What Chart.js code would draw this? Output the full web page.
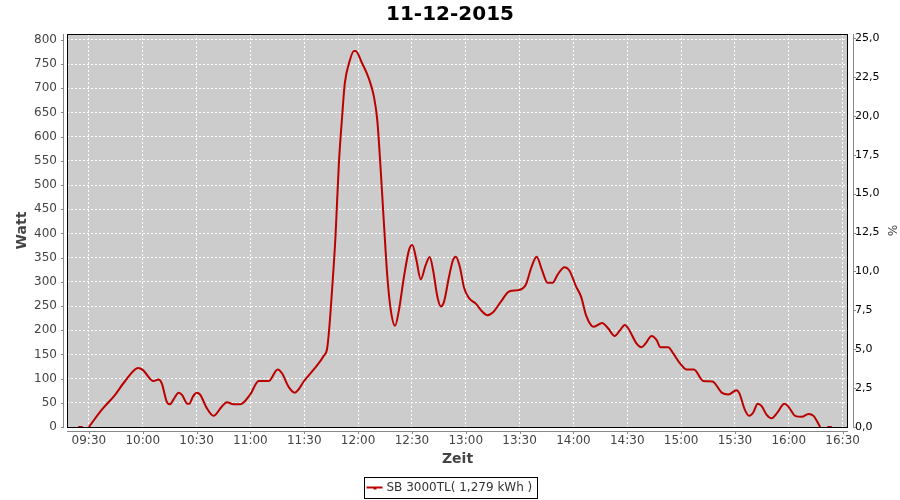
<!DOCTYPE html>
<html><head><meta charset="utf-8">
<script src="https://cdn.jsdelivr.net/npm/chart.js@4/dist/chart.umd.min.js"></script>
<style>html,body{margin:0;padding:0;background:#fff}canvas{display:block}</style>
</head><body>
<canvas id="c" width="900" height="500"></canvas>
<script>
const chartTitle = '11-12-2015';
const seriesLabel = 'SB 3000TL( 1,279 kWh )';
const xTitle = 'Zeit', yTitle = 'Watt', y2Title = '%';
// time in minutes after midnight
const times = [564,566.5,568,570,577,584.5,590,597.5,600,606,608.7,610.6,613.4,615.2,617,620,622,624.5,625.9,628,630,632,635.7,639.4,644,646.9,650.6,654.4,660,664.6,670.2,675.2,677.6,681.3,684.7,686.9,689.7,695.3,700.9,702.8,704,705.5,707.4,709.3,711.1,712.6,714.9,717.7,718.6,722.3,726,728.8,730.7,732.6,734.4,736.3,738.2,740.6,742.8,745.6,748.4,750.2,752.5,754.9,757.7,759.9,761.8,764.2,766.1,767.9,770.7,772.9,774.5,776.7,779.1,781.9,785.6,789.3,792.1,794.9,799.6,804.2,809.8,813.6,816.4,819.5,822.5,825.6,828.4,831.2,835,837.8,841.5,844.3,847.1,849.9,851.3,856,859.3,863,865.8,868.6,870.5,875.1,877.9,880.3,883.5,886.3,888.5,892.8,895.6,899.3,903,907.1,912.4,917.5,922.6,926.3,930.9,932.4,935.6,938,940.2,942.7,944.9,947.7,950.5,953.3,957.6,959.8,963.5,967.3,971,973.8,977.5,979,981.5,984];
const watts = [0,0,null,0,35,66,94,122,118,95,98,90,52,47,56,71,66,49,48,63,71,67,39,23,42,51,47,47,68,95,95,119,111,83,71,78,94,119,147,163,207,283,393,545,641,710,751,777,777,751,720,683,634,531,421,311,242,209,242,311,366,376,345,305,335,351,324,269,249,259,311,345,352,331,287,266,255,238,231,236,259,280,283,295,328,352,324,298,298,315,330,323,290,269,230,210,207,215,204,188,199,211,204,173,165,173,188,180,165,165,152,132,119,119,95,94,71,67,76,70,35,23,30,48,43,25,18,28,48,42,23,21,27,23,0,null,0,0];
const xTickLabels = ['09:30','10:00','10:30','11:00','11:30','12:00','12:30','13:00','13:30','14:00','14:30','15:00','15:30','16:00','16:30'];
const wattTicks = [0,50,100,150,200,250,300,350,400,450,500,550,600,650,700,750,800];
const percentTicks = [0,2.5,5,7.5,10,12.5,15,17.5,20,22.5,25];

const toMin = s => { const [h, m] = s.split(':').map(Number); return h * 60 + m; };
const fmtMin = v => { const h = Math.floor(v / 60), m = Math.round(v % 60); return String(h).padStart(2, '0') + ':' + String(m).padStart(2, '0'); };
const FONT = '"DejaVu Sans", sans-serif';

const frame = {
  id: 'frame',
  beforeDraw(chart) {
    const {ctx, chartArea: a} = chart;
    ctx.save();
    ctx.fillStyle = '#cccccc';
    ctx.fillRect(a.left, a.top, a.right - a.left, a.bottom - a.top);
    ctx.restore();
  },
  beforeDatasetsDraw(chart) {
    const {ctx, chartArea: a} = chart;
    ctx.save();
    ctx.strokeStyle = '#000';
    ctx.lineWidth = 1;
    ctx.strokeRect(a.left + 0.5, a.top + 0.5, a.right - a.left - 1, a.bottom - a.top);
    ctx.restore();
  },
  afterDraw(chart) {
    const {ctx, chartArea: a, scales} = chart;
    ctx.save();
    ctx.strokeStyle = '#888888';
    ctx.lineWidth = 1;
    ctx.beginPath();
    const lx = a.left - 4 + 0.5, rx = a.right + 5 + 0.5, by = a.bottom + 4 + 0.5;
    ctx.moveTo(lx, a.top); ctx.lineTo(lx, a.bottom + 1);
    ctx.moveTo(rx, a.top); ctx.lineTo(rx, a.bottom + 1);
    ctx.moveTo(a.left, by); ctx.lineTo(a.right, by);
    scales.y.ticks.forEach(t => { const p = Math.round(scales.y.getPixelForValue(t.value)) + 0.5; ctx.moveTo(lx - 2.5, p); ctx.lineTo(lx, p); });
    scales.y2.ticks.forEach(t => { const p = Math.round(scales.y2.getPixelForValue(t.value)) + 0.5; ctx.moveTo(rx, p); ctx.lineTo(rx + 2.5, p); });
    scales.x.ticks.forEach(t => { const p = Math.round(scales.x.getPixelForValue(t.value)) + 0.5; ctx.moveTo(p, by); ctx.lineTo(p, by + 2.5); });
    ctx.stroke();

    // legend
    const ds = chart.data.datasets[0];
    ctx.font = '12px ' + FONT;
    const tw = ctx.measureText(ds.label).width;
    const w = Math.round(2 + 16 + 4 + tw + 5), h = 21;
    const x0 = Math.round(chart.width / 2 - w / 2) + 0.5;
    const y0 = chart.height - 23 + 0.5;
    ctx.strokeStyle = '#000';
    ctx.strokeRect(x0, y0, w, h);
    const cy = y0 + 10;
    ctx.strokeStyle = ds.borderColor;
    ctx.lineWidth = 2;
    ctx.beginPath(); ctx.moveTo(x0 + 2, cy); ctx.lineTo(x0 + 18, cy); ctx.stroke();
    ctx.fillStyle = ds.borderColor;
    ctx.fillRect(x0 + 9, cy, 3, 2);
    ctx.fillStyle = '#333';
    ctx.textBaseline = 'middle';
    ctx.textAlign = 'left';
    ctx.fillText(ds.label, x0 + 22, cy + 0.5);
    ctx.restore();
  }
};

const points = times.map((t, i) => ({x: t, y: watts[i]}));

new Chart(document.getElementById('c'), {
  type: 'line',
  data: { datasets: [{
    label: seriesLabel,
    data: points,
    borderColor: '#bb0000',
    borderWidth: 2,
    pointRadius: 0,
    cubicInterpolationMode: 'monotone',
    spanGaps: false,
    fill: false,
    yAxisID: 'y'
  }]},
  options: {
    responsive: false,
    animation: false,
    devicePixelRatio: 1,
    layout: { padding: 0 },
    plugins: {
      legend: { display: false },
      tooltip: { enabled: false },
      title: { display: true, text: chartTitle, color: '#000', font: { family: FONT, size: 20, weight: 'bold' }, padding: { top: 3, bottom: 7 } }
    },
    scales: {
      x: {
        type: 'linear', min: 557.8, max: 993,
        afterBuildTicks: s => { s.ticks = xTickLabels.map(l => ({value: toMin(l)})); },
        afterFit: s => { s.height = 73; },
        ticks: { callback: v => fmtMin(v), color: '#444', font: { family: FONT, size: 12 }, padding: 7, maxRotation: 0, autoSkip: false, includeBounds: false },
        grid: { color: '#ffffff', lineWidth: 1, drawTicks: false },
        border: { display: false, dash: [2, 2] },
        title: { display: true, text: xTitle, color: '#444', font: { family: FONT, size: 14, weight: 'bold' }, padding: { top: 0, bottom: 32 } }
      },
      y: {
        type: 'linear', position: 'left', min: 0, max: 812,
        afterBuildTicks: s => { s.ticks = wattTicks.map(v => ({value: v})); },
        afterFit: s => { s.width = 67; },
        ticks: { color: '#444', font: { family: FONT, size: 12 }, padding: 10, includeBounds: false, autoSkip: false },
        grid: { color: '#ffffff', lineWidth: 1, drawTicks: false },
        border: { display: false, dash: [2, 2] },
        title: { display: true, text: yTitle, color: '#444', font: { family: FONT, size: 14, weight: 'bold' }, padding: { top: 14, bottom: 0 } }
      },
      y2: {
        type: 'linear', position: 'right', min: 0, max: 25.26,
        afterBuildTicks: s => { s.ticks = percentTicks.map(v => ({value: v})); },
        afterFit: s => { s.width = 52; },
        ticks: { callback: v => v.toFixed(1).replace('.', ','), color: '#000', font: { family: FONT, size: 11 }, padding: 7, includeBounds: false, autoSkip: false },
        grid: { drawOnChartArea: false, drawTicks: false },
        border: { display: false },
        title: { display: true, text: y2Title, color: '#444', font: { family: FONT, size: 12 }, padding: { top: 2, bottom: 0 } }
      }
    }
  },
  plugins: [frame]
});
</script>
</body></html>
